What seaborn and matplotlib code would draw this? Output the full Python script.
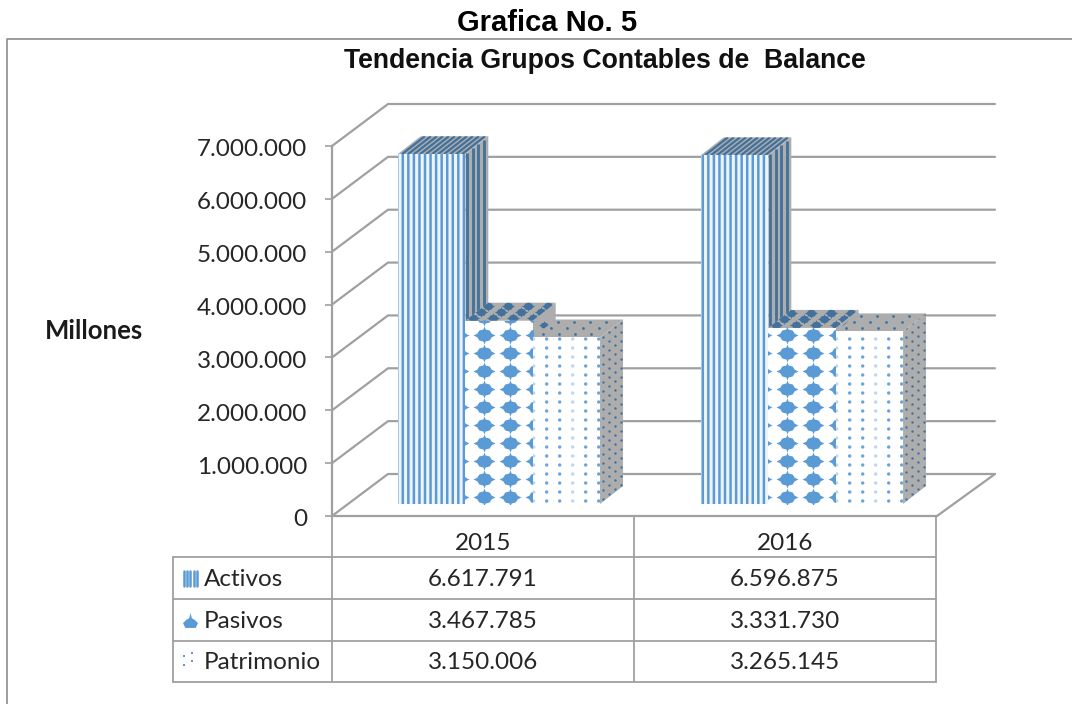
#%% import libraries
import numpy as np
import pandas as pd
import seaborn as sns
import matplotlib
matplotlib.use('Agg')
import matplotlib.pyplot as plt
from matplotlib.collections import LineCollection
from matplotlib.patches import Polygon
from matplotlib.path import Path
from matplotlib.ticker import FuncFormatter
from matplotlib.transforms import Affine2D, IdentityTransform

#%% data
anios = ['2015', '2016']
grupos = ['Activos', 'Pasivos', 'Patrimonio']
activos = [6617791, 6596875]
pasivos = [3467785, 3331730]
patrimonio = [3150006, 3265145]
y_ticks = [0, 1000000, 2000000, 3000000, 4000000, 5000000, 6000000, 7000000]

df = pd.DataFrame({
    'anio': anios * 3,
    'grupo': [g for g in grupos for _ in anios],
    'valor': activos + pasivos + patrimonio,
})

#%% style
W, H = 1072, 704
BLUE = '#5b9bd5'
DARK = '#41719c'
SIDE = '#adadad'
LINE = '#a0a0a0'
TXT = '#262626'
DX, DY = 23, 18        # depth of each bar on screen
WALL_DX, WALL_DY = 56, 42

sns.set_theme(style='white')
plt.rcParams['font.family'] = ['Lato', 'DejaVu Sans']
plt.rcParams['hatch.linewidth'] = 1.8
fig = plt.figure(figsize=(W / 100, H / 100), dpi=100)
identity = IdentityTransform()


def px_axes(left, top, right, bottom):
    return fig.add_axes([left / W, 1 - bottom / H, (right - left) / W, (bottom - top) / H])


# the 4 point blob of the Pasivos pattern
blob = Path([(0, .82), (.1, .55), (.48, .45), (.66, .16), (1, 0), (.66, -.16), (.48, -.45), (.1, -.55), (0, -.82),
             (-.1, -.55), (-.48, -.45), (-.66, -.16), (-1, 0), (-.66, .16), (-.48, .45), (-.1, .55), (0, .82)],
            closed=True)
bell = Path([(0, 1), (.18, .3), (.55, .1), (1, -.35), (.7, -1), (-.7, -1), (-1, -.35), (-.55, .1), (-.18, .3), (0, 1)],
            closed=True)

#%% page frame, titles and data table
bg = fig.add_axes([0, 0, 1, 1])
bg.set_xlim(0, W)
bg.set_ylim(H, 0)
bg.axis('off')
bg.plot([7, 7, W], [H, 39, 39], color='#8c8c8c', lw=1.2)
bg.text(547, 23, 'Grafica No. 5', family='Liberation Sans', weight='bold', fontsize=21,
        color='black', ha='center', va='center')
bg.text(605, 61, 'Tendencia Grupos Contables de  Balance', family='Liberation Sans', weight='bold',
        fontsize=19.2, color='#111111', ha='center', va='center')

rows_y = [557, 599, 641, 682]
for y in rows_y:
    bg.plot([173, 936], [y, y], color=LINE, lw=1.3)
bg.plot([173, 173], [557, 682], color=LINE, lw=1.3)
for x in [332, 634, 936]:
    bg.plot([x, x], [516, 682], color=LINE, lw=1.3)

col_x = [483, 785]
for x, anio in zip(col_x, anios):
    bg.text(x, 543, anio, fontsize=17.5, color=TXT, ha='center', va='center')
for i, (g, vals) in enumerate(zip(grupos, [activos, pasivos, patrimonio])):
    yc = (rows_y[i] + rows_y[i + 1]) / 2 + 1
    bg.text(204, yc, g, fontsize=17.5, color=TXT, ha='left', va='center')
    for x, v in zip(col_x, vals):
        bg.text(x, yc, f'{v:,}'.replace(',', '.'), fontsize=17.5, color=TXT, ha='center', va='center')

# legend keys inside the table
for k in range(5):
    bg.plot([184 + 3.2 * k] * 2, [571, 586], color=BLUE, lw=1.8)
bg.scatter([190], [620], s=115, marker=bell, color=BLUE, lw=0)
bg.scatter([184, 192, 184, 192], [656, 653, 665, 661], s=4, marker='s', color=BLUE, lw=0)

#%% front plane: axis and perspective walls
ax = px_axes(332, 146, 937, 516)
ax.set_xlim(0, 1)
ax.set_ylim(0, 7000000)
ax.patch.set_alpha(0)
ax.set_yticks(y_ticks)
ax.yaxis.set_major_formatter(FuncFormatter(lambda v, pos: f'{int(v):,}'.replace(',', '.')))
ax.set_xticks([])
ax.tick_params(axis='y', left=True, length=5, width=1.2, color=LINE, pad=13, labelsize=17.5, labelcolor=TXT)
sns.despine(ax=ax, top=True, right=True, bottom=False, left=False)
for side in ['left', 'bottom']:
    ax.spines[side].set_color(LINE)
    ax.spines[side].set_linewidth(1.6)
ax.set_ylabel('Millones', rotation=0, weight='bold', fontsize=18.5, color='#1a1a1a', ha='right', va='center')
ax.yaxis.set_label_coords((143 - 332) / 605, 0.5)

fig.canvas.draw()
for lab in ax.get_yticklabels():
    lab.set_transform(lab.get_transform() + Affine2D().translate(0, -2))
for v in y_ticks:
    x0, y0 = ax.transData.transform((0, v))
    x1, _ = ax.transData.transform((1, v))
    ax.plot([x0, x0 + WALL_DX, x1 + WALL_DX + 2], [y0, y0 + WALL_DY, y0 + WALL_DY],
            color=LINE, lw=1.6, transform=identity, clip_on=False, zorder=1)
x1, y0 = ax.transData.transform((1, 0))
ax.plot([x1, x1 + WALL_DX + 2], [y0, y0 + WALL_DY], color=LINE, lw=1.6, transform=identity,
        clip_on=False, zorder=1)

#%% bars (plane set back a little from the front axis)
ax_b = px_axes(347.5, 134, 953.5, 504)
ax_b.patch.set_alpha(0)
sns.barplot(data=df, x='anio', y='valor', hue='grupo', order=anios, hue_order=grupos,
            palette=['white'] * 3, width=0.667, gap=0, saturation=1, legend=False, ax=ax_b)
ax_b.set_xlim(-0.5, 1.5)
ax_b.set_ylim(0, 7000000)
ax_b.axis('off')
fig.canvas.draw()


def face(pts, z, color=SIDE):
    poly = Polygon(pts, closed=True, facecolor=color, edgecolor='none', transform=identity, zorder=z)
    ax_b.add_patch(poly)
    return poly


def dots(xs, ys, z, clip, **kw):
    sc = ax_b.scatter(xs, ys, transform=identity, linewidths=0, zorder=z, **kw)
    sc.set_clip_path(clip)


for i, container in enumerate(ax_b.containers):
    z = 2 * i + 2
    for bar in container:
        (xa, ya), (xb, yb) = ax_b.transData.transform([(bar.get_x(), 0), (bar.get_x() + bar.get_width(), bar.get_height())])
        side = face([(xb, ya), (xb + DX, ya + DY), (xb + DX, yb + DY), (xb, yb)], z)
        top = face([(xa, yb), (xb, yb), (xb + DX, yb + DY), (xa + DX, yb + DY)], z)
        bar.set_zorder(z + 1)
        bar.set_linewidth(0)

        if i == 0:
            bar.set_facecolor('#eef4fb')
            bar.set_edgecolor(BLUE)
            bar.set_hatch('|||')
            segs = [[(xb + s, ya + s * DY / DX), (xb + s, yb + s * DY / DX)] for s in np.arange(2, DX, 5.5)]
            lc = LineCollection(segs, colors=DARK, linewidths=2, transform=identity, zorder=z)
            ax_b.add_collection(lc)
            segs = [[(xa + s, yb), (xa + s + DX, yb + DY)] for s in np.arange(-20, xb - xa, 6)]
            lc = LineCollection(segs, colors=DARK, linewidths=1.6, transform=identity, zorder=z)
            ax_b.add_collection(lc)
            lc.set_clip_path(top)

        elif i == 1:
            gx, gy = np.meshgrid(np.arange(xa - 7, xb + 8, 26), np.arange(ya + 7.5, yb + 10, 18))
            dots(gx.ravel(), gy.ravel(), z + 1.5, bar, s=250, marker=blob, color=BLUE)
            # same blobs sheared onto the top and side faces
            t = np.array([.17, .5, .83])
            cols = np.arange(xa + 4, xb + 20, 20)
            tx = np.array([c + k * DX for c in cols for k in t])
            ty = np.array([yb + k * DY for c in cols for k in t])
            dots(tx, ty, z + .5, top, s=90, marker=blob, color=DARK)
            sy = np.arange(ya + 7.5, yb + DY, 18)
            dots(np.full(len(sy), xb + 11), sy + 10, z + .5, side, s=60, marker=blob, color=DARK)

        else:
            gx, gy = np.meshgrid(np.arange(xa + 1, xb, 13), np.arange(ya + 3, yb, 9))
            fade = np.where(np.arange(gy.size) % 3 == 0, .4, .9)
            rgba = np.tile(matplotlib.colors.to_rgba(BLUE), (gy.size, 1))
            rgba[:, 3] = fade
            dots(gx.ravel(), gy.ravel(), z + 1.5, bar, s=6, marker='o', c=rgba)
            sx, sy = np.meshgrid(np.arange(3, DX, 6), np.arange(ya + 3, yb + DY, 9))
            dots(xb + sx.ravel(), sy.ravel() + sx.ravel() * DY / DX, z + .5, side, s=3, marker='o', color=DARK)
            t = np.array([.2, .55, .85])
            cols = np.arange(xa + 6, xb + 10, 16)
            tx = np.array([c + k * DX for c in cols for k in t])
            ty = np.array([yb + k * DY for c in cols for k in t])
            dots(tx, ty, z + .5, top, s=4, marker='o', color=DARK)

fig.savefig('out.png', dpi=100)
